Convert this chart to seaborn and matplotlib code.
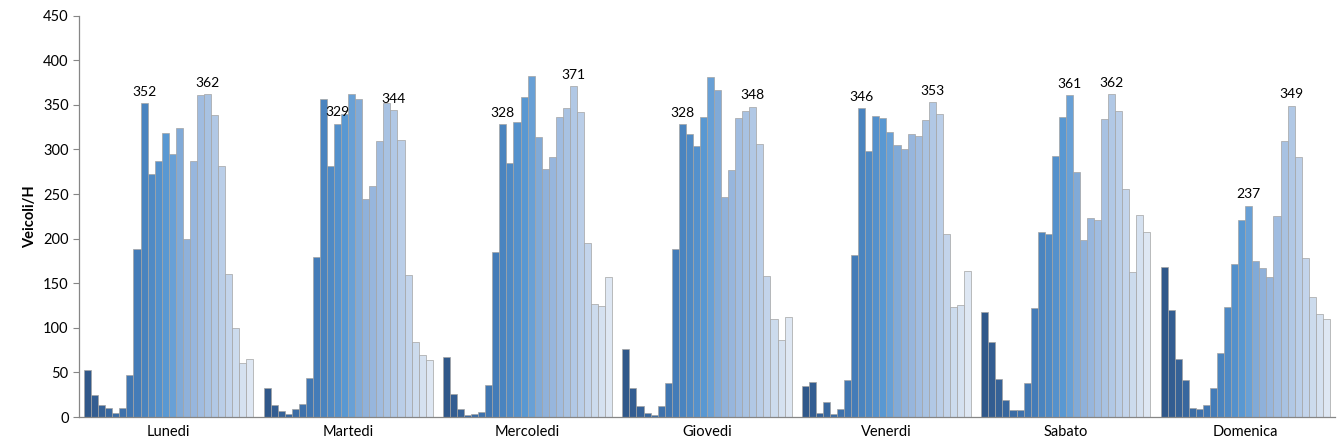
import numpy as np
import pandas as pd
import matplotlib
matplotlib.use("Agg")
import matplotlib.pyplot as plt
from matplotlib.colors import LinearSegmentedColormap, to_hex
import seaborn as sns

days = ["Lunedi", "Martedi", "Mercoledi", "Giovedi", "Venerdi", "Sabato", "Domenica"]
hours = [f"{h:02d}" for h in range(24)]

lunedi    = [53, 25, 14, 10, 5, 10, 47, 188, 352, 273, 287, 319, 295, 324, 200, 287, 361, 362, 339, 282, 160, 100, 60, 65]
martedi   = [33, 13, 7, 3, 9, 15, 44, 179, 357, 281, 329, 340, 362, 357, 245, 259, 310, 352, 344, 311, 159, 84, 69, 64]
mercoledi = [67, 26, 9, 2, 3, 6, 36, 185, 328, 285, 331, 359, 382, 314, 278, 292, 336, 346, 371, 342, 195, 127, 125, 157]
giovedi   = [76, 33, 12, 5, 2, 12, 38, 188, 328, 317, 304, 336, 381, 367, 247, 277, 335, 343, 348, 306, 158, 110, 86, 112]
venerdi   = [35, 39, 4, 17, 3, 9, 42, 182, 346, 298, 337, 335, 320, 305, 301, 317, 315, 333, 353, 340, 205, 123, 126, 164]
sabato    = [118, 84, 43, 19, 8, 8, 38, 122, 207, 205, 293, 336, 361, 275, 198, 223, 221, 334, 362, 343, 256, 163, 227, 207]
domenica  = [168, 120, 65, 41, 10, 9, 14, 32, 72, 123, 172, 221, 237, 175, 167, 157, 225, 309, 349, 291, 178, 135, 115, 110]

series = [lunedi, martedi, mercoledi, giovedi, venerdi, sabato, domenica]

# labelled bars: (day index, hour index)
label_points = [(0, 8), (0, 17), (1, 10), (1, 18), (2, 8), (2, 18), (3, 8), (3, 18),
                (4, 8), (4, 18), (5, 12), (5, 18), (6, 12), (6, 18)]

rows = []
for d, vals in zip(days, series):
    for h, v in zip(hours, vals):
        rows.append({"day": d, "hour": h, "value": v})
df = pd.DataFrame(rows)

cmap = LinearSegmentedColormap.from_list(
    "excelblue",
    [(0.0, "#30588a"), (0.28, "#4279b5"), (0.5, "#5b9bd5"), (0.58, "#8aadd8"),
     (0.75, "#aac3e3"), (1.0, "#dee7f3")])
palette = [to_hex(cmap(i / 23)) for i in range(24)]

sns.set_theme(style="white")
plt.rcParams["font.family"] = ["Lato", "DejaVu Sans"]

fig = plt.figure(figsize=(13.43, 4.48), dpi=100)
ax = fig.add_axes([79 / 1343, 31 / 448, (1335 - 79) / 1343, (417 - 15.7) / 448])

sns.barplot(data=df, x="day", y="value", hue="hour", order=days, hue_order=hours,
            palette=palette, width=0.943, saturation=1, legend=False,
            edgecolor="#a3a3a3", linewidth=0.5, ax=ax, errorbar=None)

for d, h in label_points:
    bar = ax.containers[h][d]
    x = bar.get_x() + bar.get_width() / 2
    y = bar.get_height()
    ax.annotate(str(series[d][h]), (x, y), xytext=(0, 4), textcoords="offset points",
                ha="center", va="bottom", fontsize=10, color="#000000")

ax.set_ylim(0, 450)
ax.set_yticks(np.arange(0, 451, 50))
ax.set_xlim(-0.5, 6.5)
ax.set_xlabel("")
ax.set_ylabel("Veicoli/H", fontsize=10.5, fontweight="bold", color="#000000", labelpad=4)
ax.tick_params(axis="y", labelsize=10.5, colors="#000000", length=4, width=0.8,
               direction="out", left=True, color="#868686")
ax.tick_params(axis="x", labelsize=10.5, colors="#000000", length=0, pad=6)
ax.minorticks_off()
for s in ["top", "right"]:
    ax.spines[s].set_visible(False)
for s in ["left", "bottom"]:
    ax.spines[s].set_color("#868686")
    ax.spines[s].set_linewidth(0.9)

fig.savefig("out.png", dpi=100)
